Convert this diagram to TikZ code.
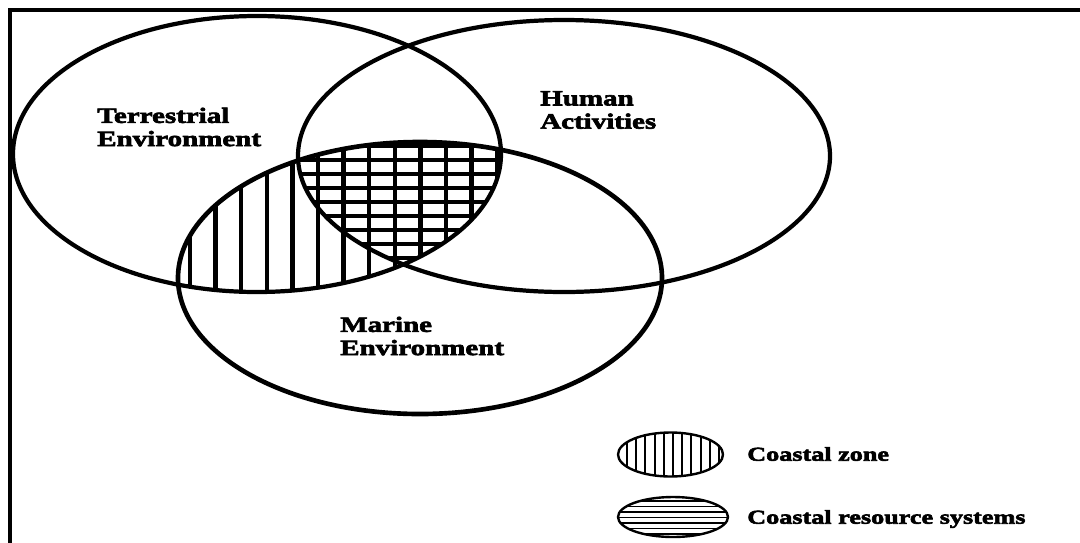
\documentclass[tikz,border=0pt]{standalone}
\usepackage{fontspec}
\newfontfamily\venfont[FakeStretch=1.33,FakeBold=3]{Liberation Serif Bold}
\usetikzlibrary{positioning}
\tikzset{setline/.style={line width=3pt},
  hatch/.style={line width=3pt},
  keyhatch/.style={line width=1.3pt},
  lbl/.style={font=\venfont\fontsize{15.5}{16.5}\selectfont,align=left,inner sep=0pt,anchor=west},
  keylbl/.style={font=\venfont\fontsize{14}{16}\selectfont,inner sep=0pt,anchor=west}}

\begin{document}
\begin{tikzpicture}[x=0.025cm,y=-0.025cm]
\useasboundingbox (0,0) rectangle (1080,542);
\clip (0,0) rectangle (1080,542);
\draw[line width=2.2pt] (10,10) rectangle (1100,560);
% coastal zone and resource systems
\begin{scope}
\clip (257,154) ellipse [x radius=244,y radius=138];
\clip (420,278) ellipse [x radius=242,y radius=136];
\foreach \x in {190,215.6,...,500} \draw[hatch] (\x,130) -- (\x,300);
\clip (564,156) ellipse [x radius=266,y radius=136];
\foreach \y in {146,160,...,270} \draw[hatch,line width=2.5pt] (280,\y) -- (520,\y);
\end{scope}
% the three sets
\draw[setline] (257,154) ellipse [x radius=244,y radius=138];
\draw[setline] (564,156) ellipse [x radius=266,y radius=136];
\draw[setline,line width=3.3pt] (420,278) ellipse [x radius=242,y radius=136];
\node[lbl] (terr) at (97,127) {Terrestrial\\Environment};
\node[lbl] (human) at (540,110) {Human\\Activities};
\node[lbl] (marine) at (340,336) {Marine\\Environment};
% legend
\begin{scope}
\clip (670.5,454.5) ellipse [x radius=52.5,y radius=22];
\foreach \x in {627,636.2,...,720} \draw[keyhatch] (\x,430) -- (\x,480);
\end{scope}
\draw[line width=1.7pt] (670.5,454.5) ellipse [x radius=52.5,y radius=22];
\begin{scope}
\clip (673,517) ellipse [x radius=55,y radius=20];
\foreach \y in {501,506.5,...,537} \draw[keyhatch] (615,\y) -- (730,\y);
\end{scope}
\draw[line width=1.7pt] (673,517) ellipse [x radius=55,y radius=20];
\node[keylbl] (zonekey) at (747,454) {Coastal zone};
\node[keylbl] (reskey) at (747,519) {Coastal resource systems};
\end{tikzpicture}
\end{document}
